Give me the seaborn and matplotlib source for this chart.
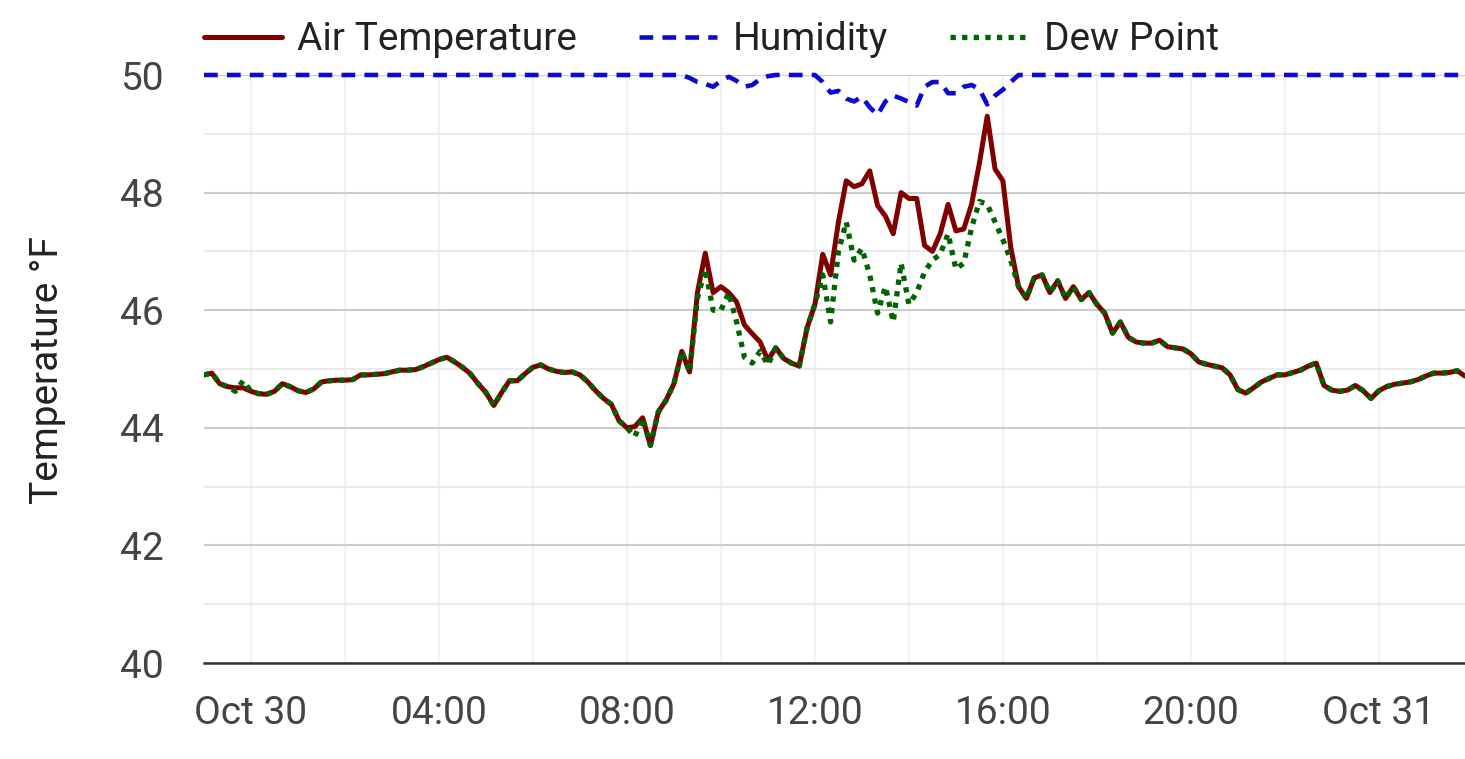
import matplotlib
matplotlib.use("Agg")
import matplotlib.pyplot as plt
import matplotlib.dates as mdates
from matplotlib.ticker import FuncFormatter, MultipleLocator
import pandas as pd
import seaborn as sns

# ---------------- data (10-minute readings) ----------------
start_time = "2023-10-29 23:00"
interval = "10min"

air_temp = [
    44.9, 44.93, 44.75, 44.7, 44.68, 44.68, 44.62, 44.58, 44.57, 44.62,
    44.75, 44.7, 44.63, 44.6, 44.66, 44.78, 44.8, 44.81, 44.81, 44.82,
    44.9, 44.9, 44.91, 44.92, 44.95, 44.98, 44.98, 44.99, 45.04, 45.1,
    45.16, 45.2, 45.12, 45.03, 44.92, 44.75, 44.6, 44.38, 44.6, 44.8,
    44.8, 44.92, 45.03, 45.07, 45.0, 44.96, 44.94, 44.95, 44.9, 44.78,
    44.63, 44.5, 44.4, 44.12, 44.0, 44.02, 44.17, 43.7, 44.27, 44.47,
    44.75, 45.3, 44.95, 46.3, 46.97, 46.3, 46.4, 46.3, 46.14, 45.75,
    45.6, 45.46, 45.15, 45.36, 45.18, 45.1, 45.05, 45.7, 46.1, 46.95,
    46.6, 47.5, 48.2, 48.1, 48.15, 48.37, 47.78, 47.6, 47.3, 48.0,
    47.9, 47.9, 47.1, 47.0, 47.3, 47.8, 47.35, 47.38, 47.8, 48.5,
    49.3, 48.4, 48.2, 47.07, 46.4, 46.2, 46.55, 46.6, 46.3, 46.5,
    46.2, 46.4, 46.18, 46.3, 46.1, 45.95, 45.61, 45.8, 45.54, 45.46,
    45.44, 45.44, 45.49, 45.38, 45.36, 45.34, 45.26, 45.12, 45.08, 45.05,
    45.02, 44.9, 44.65, 44.59, 44.68, 44.78, 44.84, 44.9, 44.9, 44.94,
    44.98, 45.05, 45.1, 44.72, 44.64, 44.62, 44.64, 44.72, 44.63, 44.5,
    44.63, 44.7, 44.74, 44.76, 44.78, 44.82, 44.88, 44.93, 44.93, 44.94,
    44.97, 44.88,
]

dew_point = [
    44.9, 44.93, 44.75, 44.7, 44.62, 44.8, 44.62, 44.58, 44.57, 44.62,
    44.75, 44.7, 44.63, 44.6, 44.66, 44.78, 44.8, 44.81, 44.81, 44.82,
    44.9, 44.9, 44.91, 44.92, 44.95, 44.98, 44.98, 44.99, 45.04, 45.1,
    45.16, 45.2, 45.12, 45.03, 44.92, 44.75, 44.6, 44.38, 44.6, 44.8,
    44.8, 44.92, 45.03, 45.07, 45.0, 44.96, 44.94, 44.95, 44.9, 44.78,
    44.63, 44.5, 44.4, 44.12, 44.0, 43.85, 44.17, 43.7, 44.27, 44.47,
    44.75, 45.3, 44.95, 46.2, 46.7, 46.0, 46.0, 46.3, 45.8, 45.2,
    45.1, 45.3, 45.07, 45.36, 45.18, 45.1, 45.05, 45.7, 46.1, 46.6,
    45.8, 47.0, 47.5, 46.85, 47.05, 46.6, 45.95, 46.4, 45.8, 46.8,
    46.1, 46.3, 46.65, 46.85, 46.95, 47.3, 46.7, 46.8, 47.4, 47.85,
    47.8, 47.5, 47.2, 46.85, 46.4, 46.2, 46.55, 46.6, 46.3, 46.5,
    46.2, 46.4, 46.18, 46.3, 46.1, 45.95, 45.61, 45.8, 45.54, 45.46,
    45.44, 45.44, 45.49, 45.38, 45.36, 45.34, 45.26, 45.12, 45.08, 45.05,
    45.02, 44.9, 44.65, 44.59, 44.68, 44.78, 44.84, 44.9, 44.9, 44.94,
    44.98, 45.05, 45.1, 44.72, 44.64, 44.62, 44.64, 44.72, 44.63, 44.5,
    44.63, 44.7, 44.74, 44.76, 44.78, 44.82, 44.88, 44.93, 44.93, 44.94,
    44.97, 44.88,
]

humidity = [
    100, 100, 100, 100, 100, 100, 100, 100, 100, 100,
    100, 100, 100, 100, 100, 100, 100, 100, 100, 100,
    100, 100, 100, 100, 100, 100, 100, 100, 100, 100,
    100, 100, 100, 100, 100, 100, 100, 100, 100, 100,
    100, 100, 100, 100, 100, 100, 100, 100, 100, 100,
    100, 100, 100, 100, 100, 100, 100, 100, 100, 100,
    100, 100, 99.5, 98.8, 98.5, 98.0, 99.0, 99.7, 99.0, 98.0,
    98.3, 99.3, 99.8, 100, 100, 100, 100, 100, 100, 98.8,
    97.0, 97.3, 96.0, 95.5, 96.3, 94.5, 93.2, 95.5, 96.5, 96.0,
    95.4, 94.8, 98.0, 98.8, 98.8, 96.9, 96.9, 98.0, 98.3, 97.6,
    95.0, 96.5, 97.5, 98.8, 100, 100, 100, 100, 100, 100,
    100, 100, 100, 100, 100, 100, 100, 100, 100, 100,
    100, 100, 100, 100, 100, 100, 100, 100, 100, 100,
    100, 100, 100, 100, 100, 100, 100, 100, 100, 100,
    100, 100, 100, 100, 100, 100, 100, 100, 100, 100,
    100, 100, 100, 100, 100, 100, 100, 100, 100, 100,
    100, 100,
]

series_labels = ["Air Temperature", "Humidity", "Dew Point"]
y_label = "Temperature °F"
y_ticks = [40, 42, 44, 46, 48, 50]

times = pd.date_range(start_time, periods=len(air_temp), freq=interval)
df = pd.DataFrame({"time": times, "air": air_temp, "dew": dew_point, "hum": humidity})

# ---------------- style ----------------
sns.set_theme(style="white")
plt.rcParams["font.family"] = ["Roboto", "DejaVu Sans"]

FS = 28
fig = plt.figure(figsize=(14.65, 7.59), dpi=100)
ax = fig.add_axes([204 / 1465, 1 - 663 / 759, 1 - 204 / 1465, (663 - 75) / 759])
ax2 = ax.twinx()

c_air, c_hum, c_dew = "#800000", "#0a0ad2", "#006400"

sns.lineplot(data=df, x="time", y="air", ax=ax, color=c_air, linewidth=3.6,
             label=series_labels[0], legend=False)
sns.lineplot(data=df, x="time", y="dew", ax=ax, color=c_dew, linewidth=3.8,
             linestyle=(0, (1, 1.2)), label=series_labels[2], legend=False)
sns.lineplot(data=df, x="time", y="hum", ax=ax2, color=c_hum, linewidth=3.3,
             linestyle=(0, (3, 2)), label=series_labels[1], legend=False)
for ln in ax2.get_lines():
    ln.set_clip_on(False)

ax.set_ylim(40, 50)
ax2.set_ylim(0, 100)
ax.set_xlim(times[0], times[-1])

ax.set_yticks(y_ticks)
ax.yaxis.set_minor_locator(MultipleLocator(1))
ax.xaxis.set_major_locator(mdates.HourLocator(byhour=range(0, 24, 4)))
ax.xaxis.set_minor_locator(mdates.HourLocator(byhour=range(0, 24, 2)))


def fmt(x, pos):
    d = mdates.num2date(x)
    return d.strftime("%b %d") if d.hour == 0 else d.strftime("%H:%M")


ax.xaxis.set_major_formatter(FuncFormatter(fmt))

ax.grid(axis="y", which="major", color="#cccccc", linewidth=1.5)
ax.grid(axis="y", which="minor", color="#ebebeb", linewidth=1.5)
ax.grid(axis="x", which="both", color="#f2f2f2", linewidth=1.5)
ax.set_axisbelow(True)

ax.tick_params(axis="both", which="both", length=0)
ax.tick_params(axis="y", labelsize=FS, labelcolor="#444444", pad=29)
ax.tick_params(axis="x", labelsize=FS, labelcolor="#444444", pad=23)
ax.set_xlabel("")
ax.set_ylabel("")
ax2.set_ylabel("")
ax2.set_yticks([])

for a in (ax, ax2):
    for s in ("top", "right", "left", "bottom"):
        a.spines[s].set_visible(False)
ax.spines["bottom"].set_visible(True)
ax.spines["bottom"].set_color("#333333")
ax.spines["bottom"].set_linewidth(1.8)

fig.text(48 / 1465, 1 - 370 / 759, y_label, rotation=90, ha="center", va="center",
         fontsize=FS, color="#222222")

h1 = ax.get_lines()
h2 = ax2.get_lines()
handles = [h1[0], h2[0], h1[1]]
fig.legend(handles, series_labels, loc="center left",
           bbox_to_anchor=(204 / 1465, 1 - 40 / 759), ncol=3, frameon=False,
           fontsize=FS, labelcolor="#222222", handlelength=2.0, handletextpad=0.4,
           columnspacing=1.6, borderpad=0, borderaxespad=0)

fig.savefig("out.png", dpi=100)
